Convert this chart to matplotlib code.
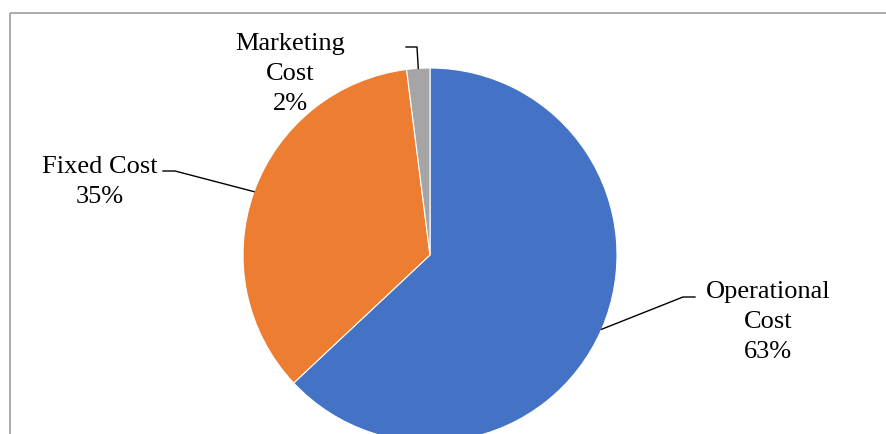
import numpy as np
import matplotlib
matplotlib.use("Agg")
import matplotlib.pyplot as plt
from matplotlib.patches import Rectangle

# data
categories = ["Operational\nCost", "Fixed Cost", "Marketing\nCost"]
shares = [63, 35, 2]
colors = ["#4472C4", "#ED7D31", "#A5A5A5"]

plt.rcParams['font.family'] = ['Liberation Serif', 'DejaVu Serif']

W, H = 886, 435
fig = plt.figure(figsize=(W / 100, H / 100), dpi=100)
ax = fig.add_axes([0, 0, 1, 1])

cx, cy, r = 430, 256, 187
# y axis is flipped, so data-ccw from -90 looks clockwise from 12 o'clock
wedges, _ = ax.pie(shares, colors=colors, startangle=-90, counterclock=True,
                   center=(cx, cy), radius=r, frame=True,
                   wedgeprops=dict(edgecolor='white', linewidth=0.8))
ax.set_xlim(0, W)
ax.set_ylim(H, 0)  # pixel-like coords, y down
ax.set_aspect('equal')
ax.axis('off')

# chart border (only top/left visible, rest cropped)
ax.add_patch(Rectangle((10, 14), 1000, 1000, fill=False, edgecolor='#A6A6A6',
                       linewidth=1.3, clip_on=True))

def edge_pt(w):
    a = np.deg2rad((w.theta1 + w.theta2) / 2)
    return cx + r * np.cos(a), cy + r * np.sin(a)

fs = 19
ls = 1.45
# Operational
x0, y0 = edge_pt(wedges[0])
ax.plot([x0, 683, 695], [y0, 298, 298], color='black', lw=1)
ax.text(768, 322, f"{categories[0]}\n{shares[0]}%", ha='center', va='center',
        fontsize=fs, linespacing=ls)
# Fixed
x1, y1 = edge_pt(wedges[1])
ax.plot([x1, 175, 163], [y1, 172, 172], color='black', lw=1)
ax.text(100, 182, f"{categories[1]}\n{shares[1]}%", ha='center', va='center',
        fontsize=fs, linespacing=ls)
# Marketing
x2, y2 = edge_pt(wedges[2])
ax.plot([x2, 417, 406], [y2, 48, 48], color='black', lw=1)
ax.text(290, 74, f"{categories[2]}\n{shares[2]}%", ha='center', va='center',
        fontsize=fs, linespacing=ls)

fig.savefig("out.png", dpi=100, facecolor='white')
